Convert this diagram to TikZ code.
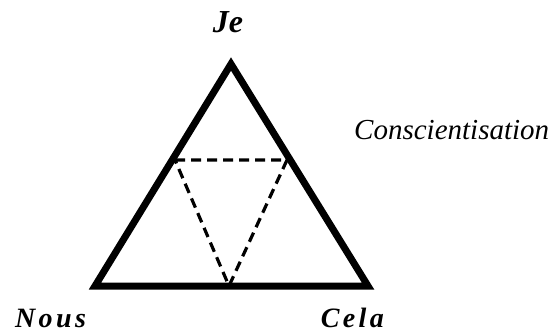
\documentclass[tikz,border=0pt]{standalone}
\usepackage{fontspec}
\setmainfont{Liberation Serif}
\newfontfamily\spaced[LetterSpace=12]{Liberation Serif}
\usepackage{tikz}
\usetikzlibrary{positioning}

\begin{document}
\begin{tikzpicture}[x=1pt,y=-1pt,
		side/.style={line width=7pt, line join=miter},
		inner/.style={line width=3.2pt, dash pattern=on 10pt off 6pt},
		label/.style={inner sep=0pt, font=\fontsize{28}{30}\selectfont\bfseries\itshape}]
			\useasboundingbox (0,0) rectangle (557,333);
			\coordinate (Je pt) at (231,64);
			\coordinate (Nous pt) at (95,286);
			\coordinate (Cela pt) at (368,286);
			
			\draw [side] (Je pt) -- (Nous pt) -- (Cela pt) -- cycle;
			
			\coordinate (left mid) at (175,160);
			\coordinate (right mid) at (287,160);
			\coordinate (base mid) at (229,286);
			\draw [inner] (left mid) -- (right mid) -- (base mid) -- cycle;
			
			\node [label, font=\fontsize{32}{34}\selectfont\bfseries\itshape, anchor=base] (Je) at (228,32) {Je};
			\node [label, anchor=base west] (Nous) at (15,327) {\spaced Nous};
			\node [label, anchor=base east] (Cela) at (384,327) {\spaced Cela};
			\node [label, font=\fontsize{29}{31}\selectfont\itshape, anchor=base west] (Conscientisation) at (354,139) {Conscientisation};
		\end{tikzpicture}
\end{document}
